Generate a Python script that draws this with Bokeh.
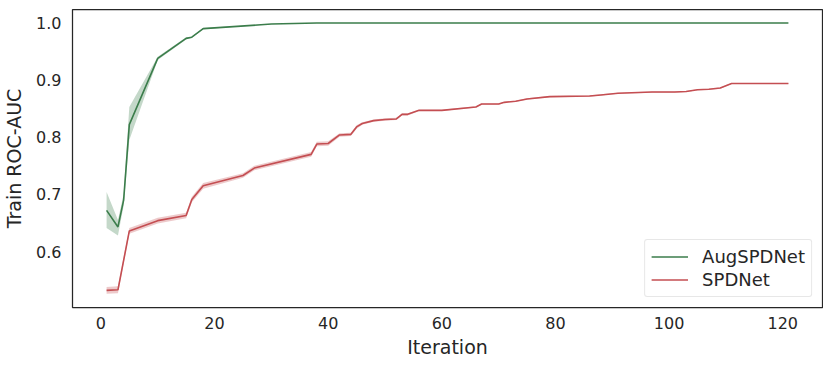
from bokeh.plotting import figure
from bokeh.models import Range1d, Legend, LegendItem
from bokeh.embed import file_html
from bokeh.resources import INLINE

# AugSPDNet
aug_x = [1, 3, 4, 5, 10, 15, 16, 18, 30, 38, 121]
aug_mean = [0.672, 0.643, 0.690, 0.822, 0.938, 0.973, 0.975, 0.990, 0.998, 1.0, 1.0]
aug_low = [0.641, 0.628, 0.680, 0.795, 0.935, 0.971, 0.974, 0.989, 0.998, 1.0, 1.0]
aug_high = [0.704, 0.655, 0.700, 0.853, 0.941, 0.975, 0.976, 0.991, 0.998, 1.0, 1.0]

# SPDNet
spd_x = [1, 3, 5, 10, 15, 16, 18, 25, 27, 37, 38, 40, 42, 44, 45, 46, 48, 50, 52, 53,
         54, 56, 60, 66, 67, 70, 71, 73, 75, 79, 86, 88, 91, 97, 101, 103, 105, 107,
         109, 111, 121]
spd_mean = [0.532, 0.533, 0.636, 0.654, 0.663, 0.691, 0.715, 0.733, 0.746, 0.770,
            0.788, 0.789, 0.804, 0.805, 0.818, 0.824, 0.829, 0.831, 0.832, 0.840,
            0.840, 0.847, 0.847, 0.853, 0.858, 0.858, 0.861, 0.863, 0.867, 0.871,
            0.872, 0.874, 0.877, 0.879, 0.879, 0.880, 0.883, 0.884, 0.886, 0.894, 0.894]
spd_err = [0.006, 0.006, 0.005, 0.005, 0.005, 0.005, 0.005, 0.004, 0.004, 0.004,
           0.004, 0.004, 0.003, 0.003, 0.003, 0.002, 0.002, 0.002, 0.002, 0.002,
           0.002, 0.001, 0.001, 0.001, 0.001, 0.001, 0.001, 0.001, 0.001, 0.001,
           0.001, 0.001, 0.001, 0.001, 0.001, 0.001, 0.001, 0.001, 0.001, 0.001, 0.001]
spd_low = [m - e for m, e in zip(spd_mean, spd_err)]
spd_high = [m + e for m, e in zip(spd_mean, spd_err)]

x_ticks = [0, 20, 40, 60, 80, 100, 120]
y_ticks = [0.6, 0.7, 0.8, 0.9, 1.0]

GREEN = "#3b7d4b"
RED = "#c44e52"
FONT = "DejaVu Sans"

p = figure(width=823, height=361, output_backend="svg", toolbar_location=None,
           x_range=Range1d(-5, 127), y_range=Range1d(0.502, 1.0235),
           min_border_left=71, min_border_right=1, min_border_top=9, min_border_bottom=54)

p.varea(x=aug_x, y1=aug_low, y2=aug_high, fill_color=GREEN, fill_alpha=0.3)
p.varea(x=spd_x, y1=spd_low, y2=spd_high, fill_color=RED, fill_alpha=0.3)
r_aug = p.line(aug_x, aug_mean, line_color=GREEN, line_width=1.6)
r_spd = p.line(spd_x, spd_mean, line_color=RED, line_width=1.6)

legend = Legend(items=[LegendItem(label="AugSPDNet", renderers=[r_aug]),
                       LegendItem(label="SPDNet", renderers=[r_spd])],
                location="bottom_right")
legend.label_text_font = FONT
legend.label_text_font_size = "18px"
legend.label_text_color = "#262626"
legend.label_height = 19
legend.glyph_height = 19
legend.glyph_width = 37
legend.label_standoff = 14
legend.spacing = 2
legend.padding = 6
legend.margin = 10
legend.border_line_color = "#d0d0d0"
legend.border_line_width = 1
legend.border_radius = 3
legend.background_fill_alpha = 0.8
p.add_layout(legend)

p.xgrid.visible = False
p.ygrid.visible = False
p.outline_line_color = "#262626"
p.outline_line_width = 1.25
p.background_fill_color = "white"
p.border_fill_color = "white"

p.xaxis.ticker = x_ticks
p.yaxis.ticker = y_ticks
for ax in (p.xaxis, p.yaxis):
    ax.axis_line_color = None
    ax.major_tick_line_color = None
    ax.minor_tick_line_color = None
    ax.major_tick_in = 0
    ax.major_tick_out = 0
    ax.major_label_text_font = FONT
    ax.major_label_text_font_size = "16px"
    ax.major_label_text_color = "#262626"
    ax.axis_label_text_font = FONT
    ax.axis_label_text_font_size = "19px"
    ax.axis_label_text_font_style = "normal"
    ax.axis_label_text_color = "#262626"

p.xaxis.axis_label = "Iteration"
p.yaxis.axis_label = "Train ROC-AUC"
p.xaxis.major_label_standoff = 9
p.yaxis.major_label_standoff = 11
p.xaxis.axis_label_standoff = 4
p.yaxis.axis_label_standoff = 8
p.yaxis.major_label_overrides = {0.6: "0.6", 0.7: "0.7", 0.8: "0.8", 0.9: "0.9", 1.0: "1.0"}

open("out.html", "w").write(file_html(p, INLINE))
